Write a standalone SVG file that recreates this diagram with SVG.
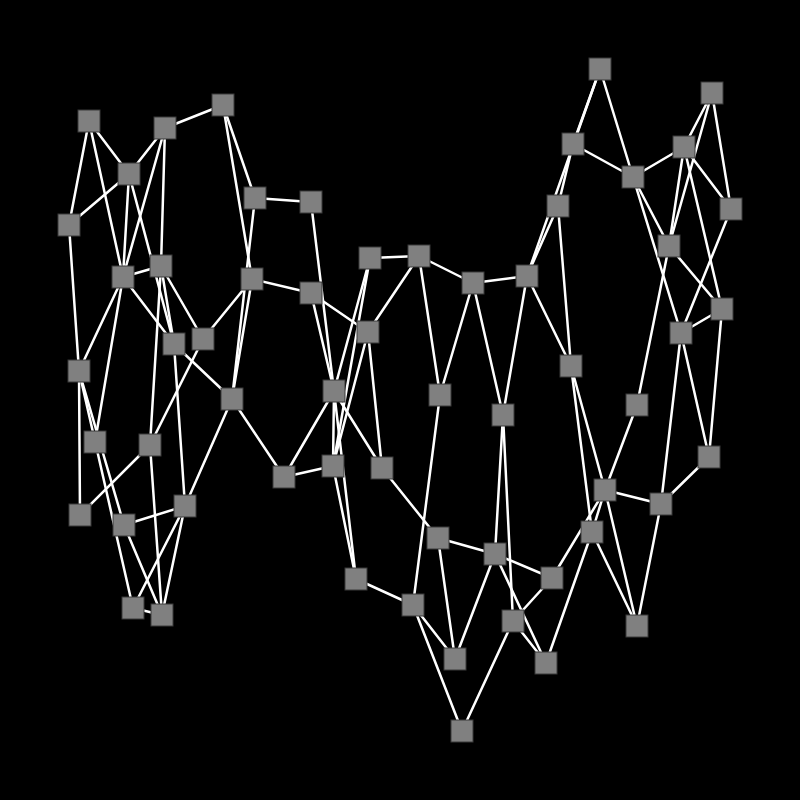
<svg xmlns="http://www.w3.org/2000/svg" width="800" height="800" viewBox="0 0 800 800">
<style>
.e line{stroke:#ffffff;stroke-width:2.5;stroke-linecap:round}
.n rect{fill:#808080;stroke:#3a3a3a;stroke-width:1;width:22px;height:22px}
</style>
<rect width="800" height="800" fill="#000"/>
<g id="connectors" class="e">
<line x1="89" y1="121" x2="129" y2="174"/>
<line x1="89" y1="121" x2="69" y2="225"/>
<line x1="89" y1="121" x2="123" y2="277"/>
<line x1="165" y1="128" x2="223" y2="105"/>
<line x1="165" y1="128" x2="129" y2="174"/>
<line x1="165" y1="128" x2="123" y2="277"/>
<line x1="165" y1="128" x2="161" y2="266"/>
<line x1="223" y1="105" x2="255" y2="198"/>
<line x1="223" y1="105" x2="252" y2="279"/>
<line x1="129" y1="174" x2="69" y2="225"/>
<line x1="129" y1="174" x2="123" y2="277"/>
<line x1="129" y1="174" x2="174" y2="344"/>
<line x1="69" y1="225" x2="79" y2="371"/>
<line x1="255" y1="198" x2="311" y2="202"/>
<line x1="255" y1="198" x2="232" y2="399"/>
<line x1="311" y1="202" x2="334" y2="391"/>
<line x1="123" y1="277" x2="161" y2="266"/>
<line x1="123" y1="277" x2="174" y2="344"/>
<line x1="123" y1="277" x2="79" y2="371"/>
<line x1="123" y1="277" x2="95" y2="442"/>
<line x1="161" y1="266" x2="174" y2="344"/>
<line x1="161" y1="266" x2="203" y2="339"/>
<line x1="161" y1="266" x2="150" y2="445"/>
<line x1="252" y1="279" x2="311" y2="293"/>
<line x1="252" y1="279" x2="203" y2="339"/>
<line x1="252" y1="279" x2="232" y2="399"/>
<line x1="311" y1="293" x2="368" y2="332"/>
<line x1="311" y1="293" x2="334" y2="391"/>
<line x1="174" y1="344" x2="232" y2="399"/>
<line x1="174" y1="344" x2="185" y2="506"/>
<line x1="203" y1="339" x2="150" y2="445"/>
<line x1="79" y1="371" x2="80" y2="515"/>
<line x1="79" y1="371" x2="133" y2="608"/>
<line x1="79" y1="371" x2="124" y2="525"/>
<line x1="124" y1="525" x2="162" y2="615"/>
<line x1="150" y1="445" x2="80" y2="515"/>
<line x1="150" y1="445" x2="162" y2="615"/>
<line x1="124" y1="525" x2="185" y2="506"/>
<line x1="185" y1="506" x2="133" y2="608"/>
<line x1="185" y1="506" x2="162" y2="615"/>
<line x1="133" y1="608" x2="162" y2="615"/>
<line x1="232" y1="399" x2="185" y2="506"/>
<line x1="232" y1="399" x2="284" y2="477"/>
<line x1="284" y1="477" x2="334" y2="391"/>
<line x1="284" y1="477" x2="333" y2="466"/>
<line x1="370" y1="258" x2="419" y2="256"/>
<line x1="370" y1="258" x2="334" y2="391"/>
<line x1="370" y1="258" x2="333" y2="466"/>
<line x1="368" y1="332" x2="333" y2="466"/>
<line x1="368" y1="332" x2="419" y2="256"/>
<line x1="368" y1="332" x2="382" y2="468"/>
<line x1="334" y1="391" x2="333" y2="466"/>
<line x1="334" y1="391" x2="382" y2="468"/>
<line x1="334" y1="391" x2="356" y2="579"/>
<line x1="333" y1="466" x2="356" y2="579"/>
<line x1="382" y1="468" x2="438" y2="538"/>
<line x1="419" y1="256" x2="473" y2="283"/>
<line x1="419" y1="256" x2="440" y2="395"/>
<line x1="473" y1="283" x2="527" y2="276"/>
<line x1="473" y1="283" x2="440" y2="395"/>
<line x1="473" y1="283" x2="503" y2="415"/>
<line x1="527" y1="276" x2="503" y2="415"/>
<line x1="527" y1="276" x2="571" y2="366"/>
<line x1="527" y1="276" x2="600" y2="69"/>
<line x1="527" y1="276" x2="558" y2="206"/>
<line x1="440" y1="395" x2="413" y2="605"/>
<line x1="503" y1="415" x2="495" y2="554"/>
<line x1="503" y1="415" x2="513" y2="621"/>
<line x1="438" y1="538" x2="495" y2="554"/>
<line x1="438" y1="538" x2="455" y2="659"/>
<line x1="495" y1="554" x2="552" y2="578"/>
<line x1="495" y1="554" x2="455" y2="659"/>
<line x1="495" y1="554" x2="546" y2="663"/>
<line x1="356" y1="579" x2="413" y2="605"/>
<line x1="413" y1="605" x2="455" y2="659"/>
<line x1="413" y1="605" x2="462" y2="731"/>
<line x1="513" y1="621" x2="462" y2="731"/>
<line x1="513" y1="621" x2="552" y2="578"/>
<line x1="513" y1="621" x2="546" y2="663"/>
<line x1="552" y1="578" x2="605" y2="490"/>
<line x1="546" y1="663" x2="592" y2="532"/>
<line x1="600" y1="69" x2="573" y2="144"/>
<line x1="600" y1="69" x2="633" y2="177"/>
<line x1="573" y1="144" x2="633" y2="177"/>
<line x1="573" y1="144" x2="558" y2="206"/>
<line x1="558" y1="206" x2="571" y2="366"/>
<line x1="633" y1="177" x2="684" y2="147"/>
<line x1="633" y1="177" x2="669" y2="246"/>
<line x1="633" y1="177" x2="681" y2="333"/>
<line x1="684" y1="147" x2="712" y2="93"/>
<line x1="684" y1="147" x2="731" y2="209"/>
<line x1="684" y1="147" x2="669" y2="246"/>
<line x1="684" y1="147" x2="722" y2="309"/>
<line x1="712" y1="93" x2="731" y2="209"/>
<line x1="712" y1="93" x2="669" y2="246"/>
<line x1="731" y1="209" x2="681" y2="333"/>
<line x1="669" y1="246" x2="722" y2="309"/>
<line x1="669" y1="246" x2="637" y2="405"/>
<line x1="722" y1="309" x2="681" y2="333"/>
<line x1="722" y1="309" x2="709" y2="457"/>
<line x1="681" y1="333" x2="709" y2="457"/>
<line x1="681" y1="333" x2="661" y2="504"/>
<line x1="571" y1="366" x2="605" y2="490"/>
<line x1="571" y1="366" x2="592" y2="532"/>
<line x1="637" y1="405" x2="605" y2="490"/>
<line x1="605" y1="490" x2="661" y2="504"/>
<line x1="605" y1="490" x2="592" y2="532"/>
<line x1="605" y1="490" x2="637" y2="626"/>
<line x1="661" y1="504" x2="709" y2="457"/>
<line x1="661" y1="504" x2="637" y2="626"/>
<line x1="592" y1="532" x2="637" y2="626"/>
</g>
<g class="n">
<g id="n1"><rect x="78" y="110"/></g>
<g id="n2"><rect x="154" y="117"/></g>
<g id="n3"><rect x="212" y="94"/></g>
<g id="n4"><rect x="118" y="163"/></g>
<g id="n5"><rect x="58" y="214"/></g>
<g id="n6"><rect x="244" y="187"/></g>
<g id="n7"><rect x="300" y="191"/></g>
<g id="n8"><rect x="112" y="266"/></g>
<g id="n9"><rect x="150" y="255"/></g>
<g id="n10"><rect x="241" y="268"/></g>
<g id="n11"><rect x="300" y="282"/></g>
<g id="n12"><rect x="163" y="333"/></g>
<g id="n13"><rect x="192" y="328"/></g>
<g id="n14"><rect x="68" y="360"/></g>
<g id="n15"><rect x="221" y="388"/></g>
<g id="n16"><rect x="84" y="431"/></g>
<g id="n17"><rect x="139" y="434"/></g>
<g id="n18"><rect x="69" y="504"/></g>
<g id="n19"><rect x="113" y="514"/></g>
<g id="n20"><rect x="174" y="495"/></g>
<g id="n21"><rect x="122" y="597"/></g>
<g id="n22"><rect x="151" y="604"/></g>
<g id="n23"><rect x="273" y="466"/></g>
<g id="n24"><rect x="323" y="380"/></g>
<g id="n25"><rect x="322" y="455"/></g>
<g id="n26"><rect x="371" y="457"/></g>
<g id="n27"><rect x="357" y="321"/></g>
<g id="n28"><rect x="359" y="247"/></g>
<g id="n29"><rect x="408" y="245"/></g>
<g id="n30"><rect x="462" y="272"/></g>
<g id="n31"><rect x="516" y="265"/></g>
<g id="n32"><rect x="429" y="384"/></g>
<g id="n33"><rect x="492" y="404"/></g>
<g id="n34"><rect x="427" y="527"/></g>
<g id="n35"><rect x="484" y="543"/></g>
<g id="n36"><rect x="541" y="567"/></g>
<g id="n37"><rect x="345" y="568"/></g>
<g id="n38"><rect x="402" y="594"/></g>
<g id="n39"><rect x="444" y="648"/></g>
<g id="n40"><rect x="502" y="610"/></g>
<g id="n41"><rect x="535" y="652"/></g>
<g id="n42"><rect x="451" y="720"/></g>
<g id="n43"><rect x="589" y="58"/></g>
<g id="n44"><rect x="562" y="133"/></g>
<g id="n45"><rect x="622" y="166"/></g>
<g id="n46"><rect x="673" y="136"/></g>
<g id="n47"><rect x="701" y="82"/></g>
<g id="n48"><rect x="720" y="198"/></g>
<g id="n49"><rect x="547" y="195"/></g>
<g id="n50"><rect x="658" y="235"/></g>
<g id="n51"><rect x="711" y="298"/></g>
<g id="n52"><rect x="670" y="322"/></g>
<g id="n53"><rect x="560" y="355"/></g>
<g id="n54"><rect x="626" y="394"/></g>
<g id="n55"><rect x="698" y="446"/></g>
<g id="n56"><rect x="594" y="479"/></g>
<g id="n57"><rect x="650" y="493"/></g>
<g id="n58"><rect x="581" y="521"/></g>
<g id="n59"><rect x="626" y="615"/></g>
</g>
</svg>
